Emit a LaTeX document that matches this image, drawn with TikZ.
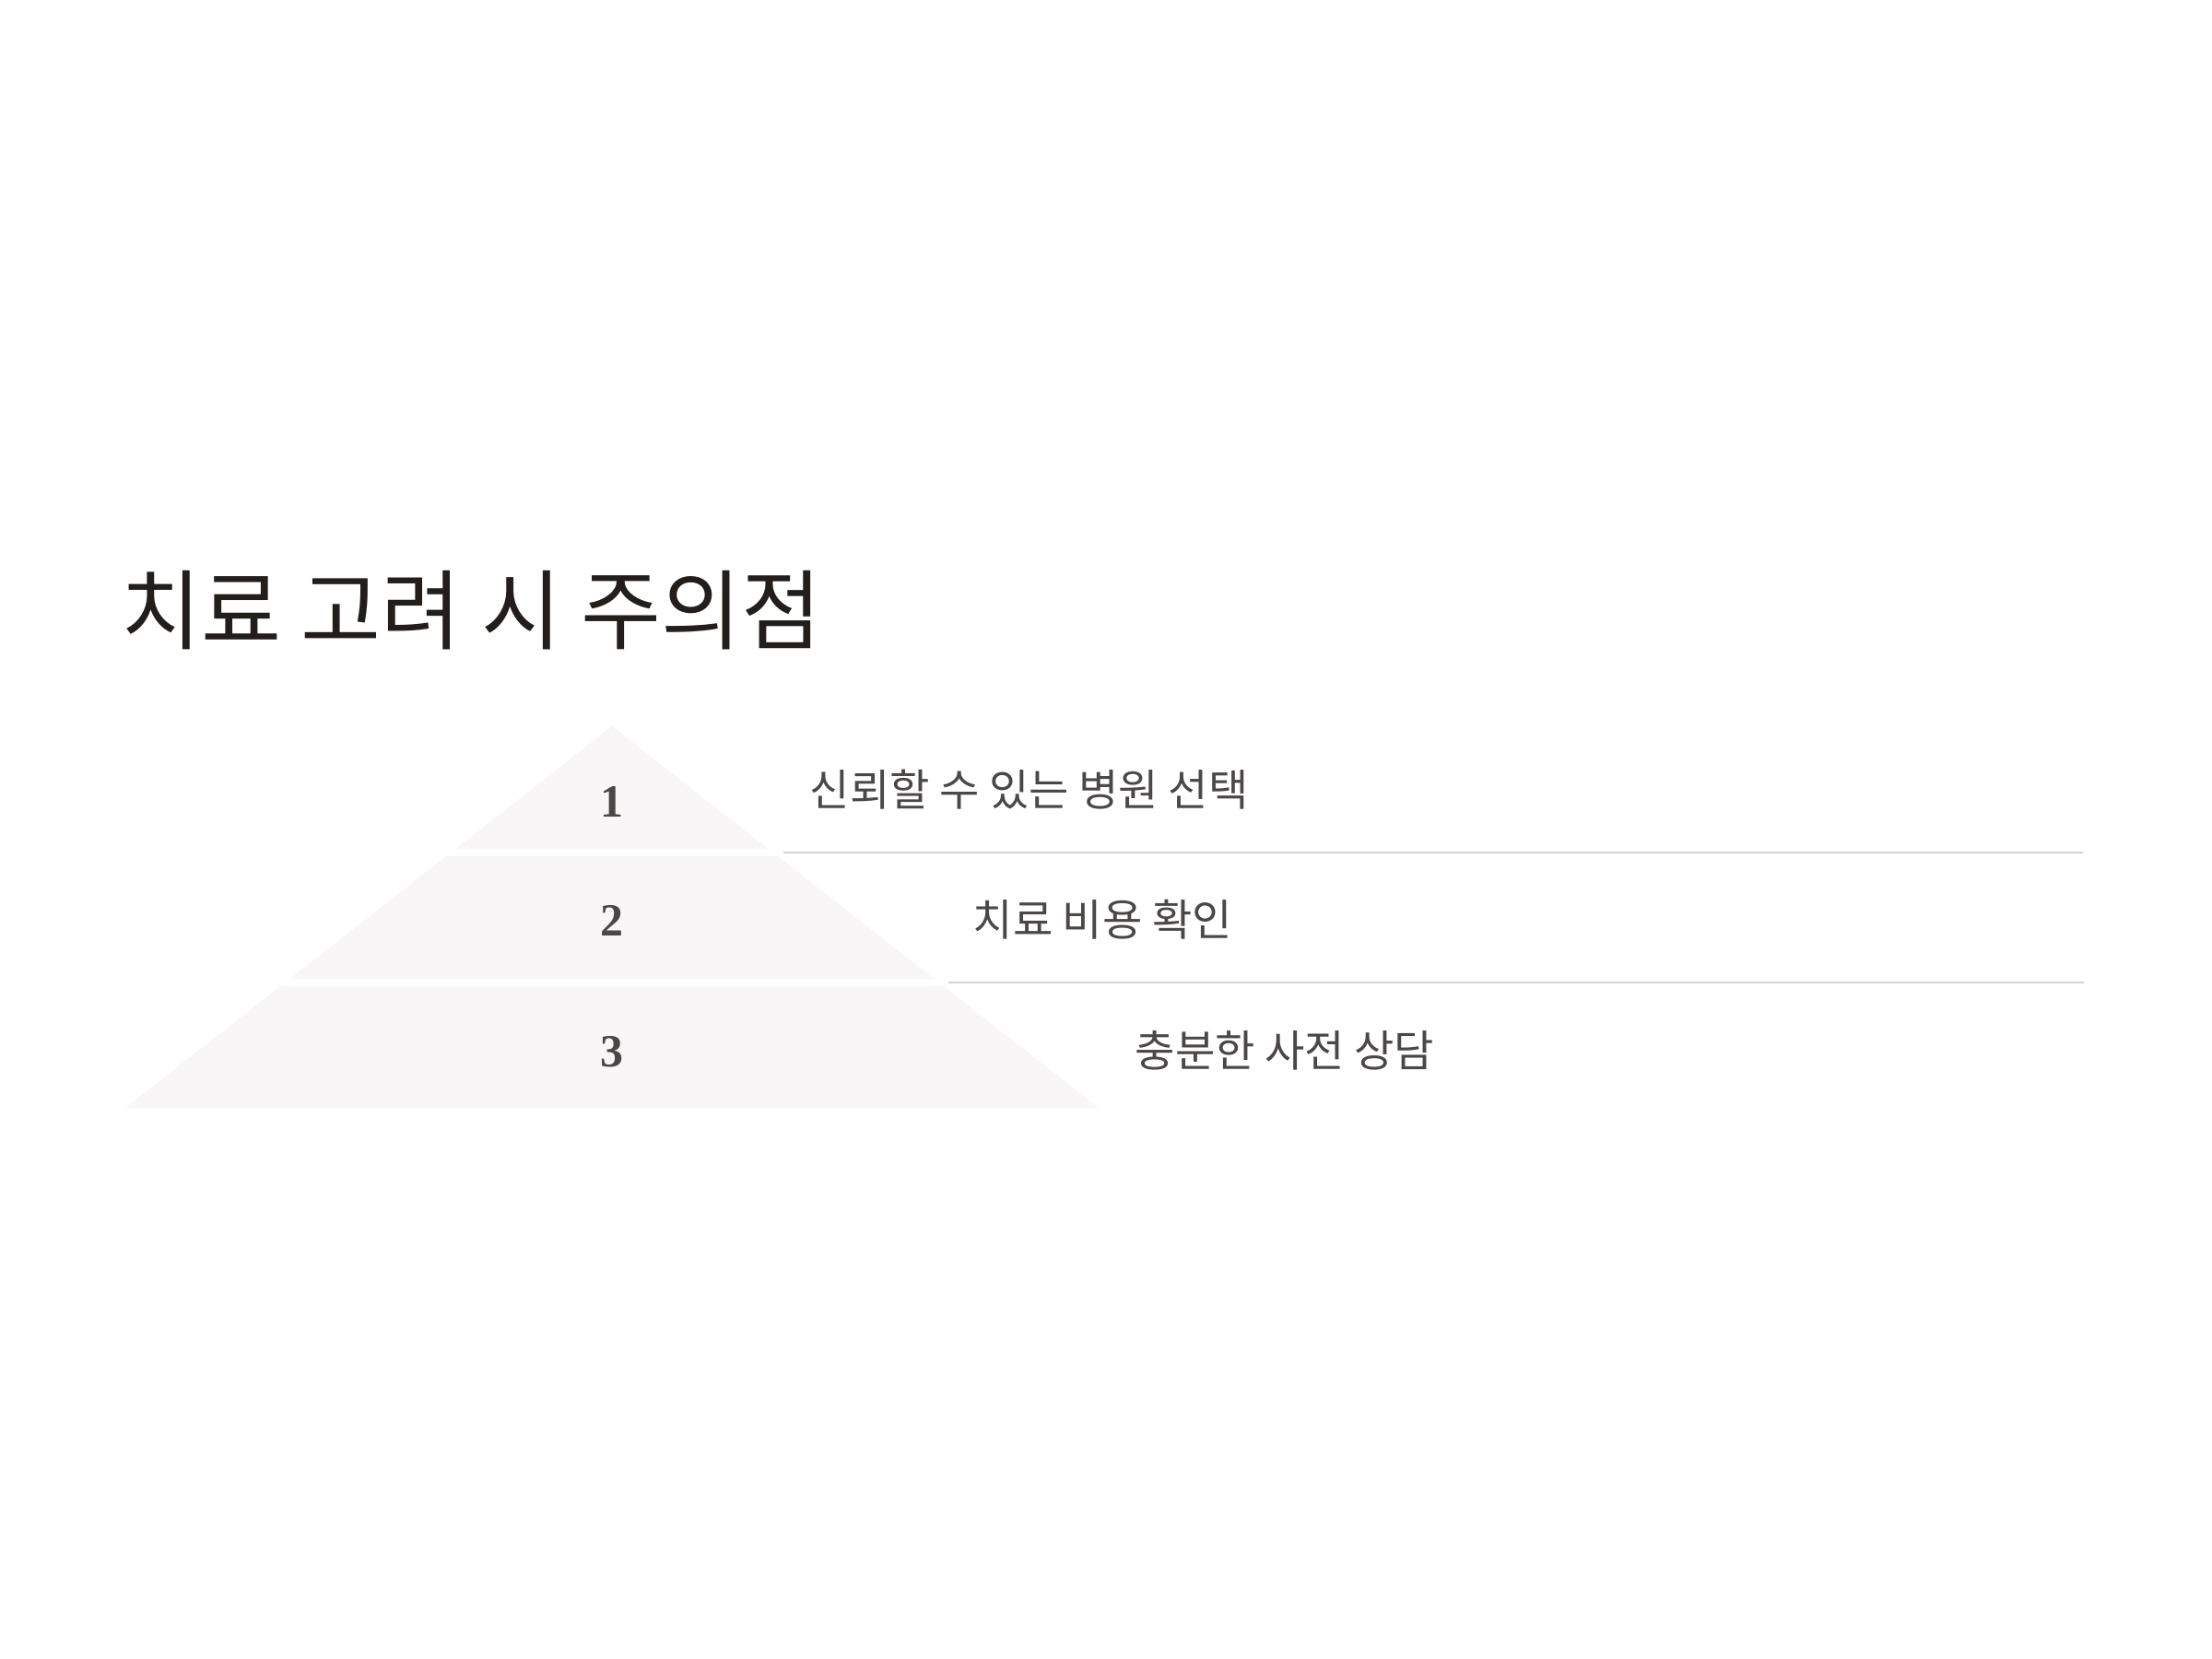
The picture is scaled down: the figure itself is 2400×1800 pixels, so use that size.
\documentclass[tikz,border=0pt]{standalone}
\usepackage{fontspec}
\setmainfont{Noto Sans CJK KR}
\newfontfamily\numfont{Liberation Serif}
\definecolor{tierfill}{HTML}{F8F6F6}
\definecolor{rulegray}{HTML}{D5D3D3}
\definecolor{titleink}{HTML}{221E1C}
\definecolor{textgray}{HTML}{4B4746}
\begin{document}
\begin{tikzpicture}[x=0.01cm, y=-0.01cm,
    tier/.style={fill=tierfill},
    sep/.style={draw=rulegray, line width=0.02cm},
    num/.style={anchor=base, inner sep=0pt, text=textgray,
        font=\numfont\bfseries\fontsize{14.2pt}{16pt}\selectfont},
    item/.style={anchor=base west, inner sep=0pt, text=textgray,
        font=\fontsize{13.4pt}{16pt}\selectfont}]
    \useasboundingbox (0,0) rectangle (2400,1800);
    \fill[white] (0,0) rectangle (2400,1800);
    % title
    \node[anchor=base west, inner sep=0pt, text=titleink,
        font=\fontsize{26.9pt}{32pt}\selectfont] (title) at (131,697) {치료 고려 시 주의점};
    % pyramid tiers
    \fill[tier] (664,788) -- (833.6,921) -- (494.4,921) -- cycle;
    \fill[tier] (484.2,929) -- (843.8,929) -- (1013.4,1062) -- (314.6,1062) -- cycle;
    \fill[tier] (304.4,1070) -- (1023.6,1070) -- (1192,1202) -- (136,1202) -- cycle;
    \node[num] (n1) at (664,886) {1};
    \node[num] (n2) at (664,1015) {2};
    \node[num] (n3) at (664,1157) {3};
    % separators
    \coordinate (s1a) at (850,925);
    \coordinate (s1b) at (2260,925);
    \coordinate (s2a) at (1029,1066);
    \coordinate (s2b) at (2261,1066);
    \draw[sep] (s1a) -- (s1b);
    \draw[sep] (s2a) -- (s2b);
    % items
    \node[item] (i1) at (878,874) {신뢰할 수 있는 병원 선택};
    \node[item] (i2) at (1055,1015) {치료 비용 확인};
    \node[item] (i3) at (1231,1157) {충분한 사전 상담};
\end{tikzpicture}
\end{document}
